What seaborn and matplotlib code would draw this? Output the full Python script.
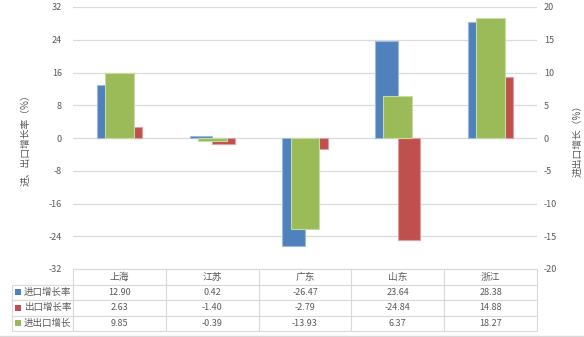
import matplotlib
matplotlib.use("Agg")
import matplotlib.pyplot as plt
import matplotlib.colors as mcolors
from matplotlib.patches import Rectangle
from matplotlib.lines import Line2D
import seaborn as sns
import pandas as pd

regions = ["上海", "江苏", "广东", "山东", "浙江"]
import_rate = [12.90, 0.42, -26.47, 23.64, 28.38]
export_rate = [2.63, -1.40, -2.79, -24.84, 14.88]
total_growth = [9.85, -0.39, -13.93, 6.37, 18.27]
series_names = ["进口增长率", "出口增长率", "进出口增长"]
left_ticks = [-32, -24, -16, -8, 0, 8, 16, 24, 32]
right_ticks = [-20, -15, -10, -5, 0, 5, 10, 15, 20]

BLUE, RED, GREEN = "#4F81BD", "#C0504D", "#9BBB59"
TXT = "#595959"
GRID = "#D9D9D9"

sns.set_style("white")
plt.rcParams["font.family"] = ["Noto Sans CJK SC", "DejaVu Sans"]

fig = plt.figure(figsize=(5.84, 3.37), dpi=100)
W, H = 584, 337
ax_l, ax_r, ax_t, ax_b = 73, 537, 7, 269
ax = fig.add_axes([ax_l / W, 1 - ax_b / H, (ax_r - ax_l) / W, (ax_b - ax_t) / H])

df = pd.DataFrame({
    "region": regions * 2,
    "series": [series_names[0]] * 5 + [series_names[1]] * 5,
    "value": import_rate + export_rate,
})
sns.barplot(data=df, x="region", y="value", hue="series", order=regions,
            hue_order=series_names[:2], palette=[BLUE, RED], width=0.485,
            saturation=1, ax=ax, legend=False, linewidth=0.8, edgecolor="white")

ax2 = ax.twinx()
sns.barplot(x=regions, y=total_growth, order=regions, color=GREEN, width=0.31,
            saturation=1, ax=ax2, linewidth=0.8, edgecolor="white")

for a in (ax, ax2):
    for p in a.patches:
        fc = mcolors.to_rgb(p.get_facecolor())
        light = tuple(c + (1 - c) * 0.45 for c in fc)
        p.set_edgecolor(light)
        p.set_linewidth(0.8)

ax.set_xlim(-0.5, 4.5)
ax.set_ylim(-32, 32)
ax2.set_ylim(-20, 20)
ax.set_yticks(left_ticks)
ax2.set_yticks(right_ticks)
ax.set_yticklabels([str(t) for t in left_ticks])
ax2.set_yticklabels([str(t) for t in right_ticks])
ax.set_xticks([])
ax.set_xlabel("")
ax2.set_xlabel("")
ax.yaxis.grid(True, color=GRID, lw=0.9)
ax.set_axisbelow(True)
ax2.grid(False)
for a in (ax, ax2):
    for s in a.spines.values():
        s.set_visible(False)
ax.tick_params(axis="y", length=0, pad=8, labelsize=6.5, labelcolor=TXT)
ax2.tick_params(axis="y", length=0, pad=5, labelsize=6.5, labelcolor=TXT)

ax.set_ylabel("进、出口增长率（%）", fontsize=7, color=TXT)
ax.yaxis.set_label_coords((31 - ax_l) / (ax_r - ax_l), 0.5)
ax2.set_ylabel("进出口增长（%）", fontsize=7, color=TXT, rotation=90)
ax2.yaxis.set_label_coords((573 - ax_l) / (ax_r - ax_l), 0.5)

# data table
tab_left, tab_bottom = 12, 331
aw, ah = ax_r - ax_l, ax_b - ax_t
cell_text = [[""] + regions]
vals = [import_rate, export_rate, total_growth]
for name, v in zip(series_names, vals):
    cell_text.append([name] + [f"{x:.2f}" for x in v])
lab_w = ax_l - tab_left
col_w = aw / 5
total_w = lab_w + aw
tbl = ax.table(cellText=cell_text, cellLoc="center",
               colWidths=[lab_w / total_w] + [col_w / total_w] * 5,
               bbox=[(tab_left - ax_l) / aw, -(tab_bottom - ax_b) / ah,
                     total_w / aw, (tab_bottom - ax_b) / ah])
tbl.auto_set_font_size(False)
for (r, c), cell in tbl.get_celld().items():
    cell.set_edgecolor(GRID)
    cell.set_linewidth(0.8)
    cell.get_text().set_color(TXT)
    if c == 0:
        cell._loc = "left"
        cell.PAD = 12 / lab_w
        cell.get_text().set_fontsize(6.8)
        cell.get_text().set_ha("left")
        if r == 0:
            cell.visible_edges = ""
    elif r == 0:
        cell.get_text().set_fontsize(7)
    else:
        cell.get_text().set_fontsize(6.5)

row_h = (tab_bottom - ax_b) / 4
for i, col in enumerate([BLUE, RED, GREEN]):
    yc = ax_b + row_h * (i + 1.5)
    fig.patches.append(Rectangle((15 / W, 1 - (yc + 3) / H), 6 / W, 6 / H,
                                 transform=fig.transFigure, facecolor=col,
                                 edgecolor="none"))

fig.lines.append(Line2D([0, 1], [1 - 335.5 / H] * 2, transform=fig.transFigure,
                        color=GRID, lw=1))

fig.savefig("out.png", dpi=100)
